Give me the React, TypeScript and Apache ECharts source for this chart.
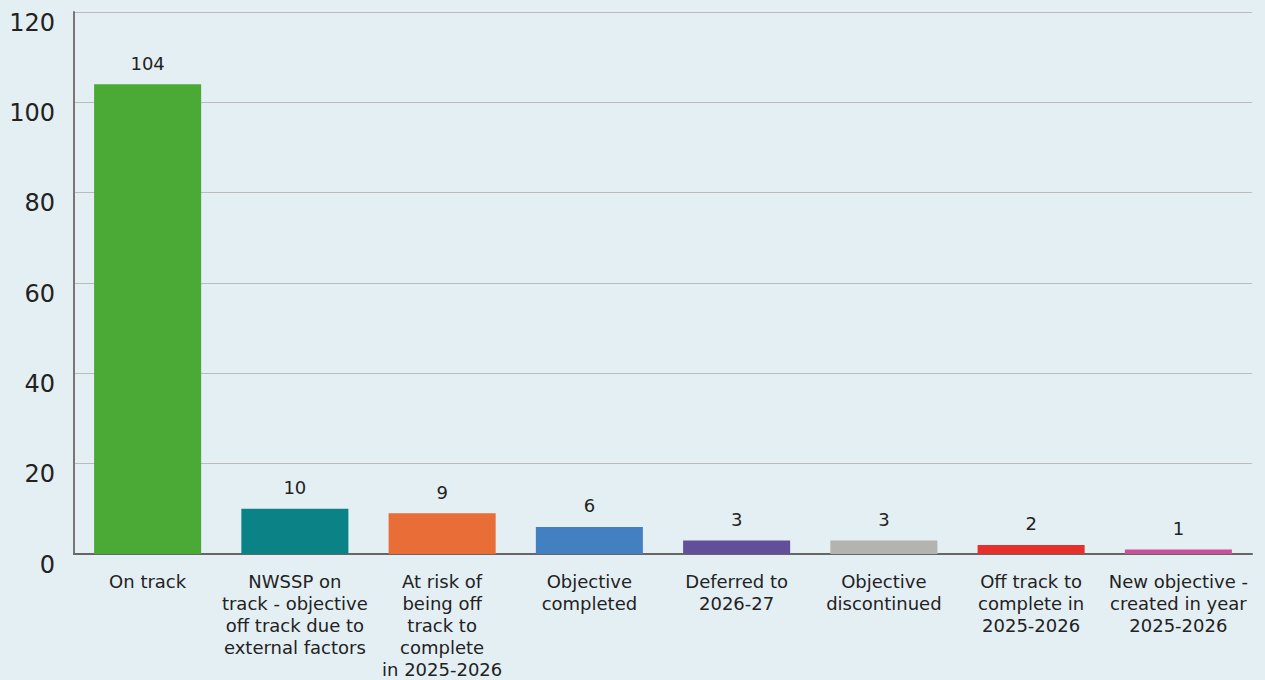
import React, { useEffect, useRef } from "react";
import * as echarts from "echarts";

const categories = [
  "On track",
  "NWSSP on\ntrack - objective\noff track due to\nexternal factors",
  "At risk of\nbeing off\ntrack to\ncomplete\nin 2025-2026",
  "Objective\ncompleted",
  "Deferred to\n2026-27",
  "Objective\ndiscontinued",
  "Off track to\ncomplete in\n2025-2026",
  "New objective -\ncreated in year\n2025-2026",
];
const values = [104, 10, 9, 6, 3, 3, 2, 1];
const barColors = [
  "#4aaa35",
  "#0a8286",
  "#e86d36",
  "#4280c2",
  "#624f9a",
  "#b3b3b0",
  "#e5302c",
  "#c9519a",
];
const yMin = 0;
const yMax = 120;
const yInterval = 20;

export default function App() {
  const ref = useRef<HTMLDivElement>(null);
  useEffect(() => {
    if (!ref.current) return;
    const chart = echarts.init(ref.current, null, { renderer: "svg" });
    const font = "DejaVu Sans";
    chart.setOption({
      animation: false,
      backgroundColor: "#e4eff4",
      textStyle: { fontFamily: font },
      grid: {
        left: 74,
        right: 13,
        top: 12,
        bottom: 126,
        containLabel: false,
        outerBoundsMode: "none",
      },
      xAxis: {
        type: "category",
        data: categories,
        axisLine: { show: true, lineStyle: { color: "#666", width: 2 } },
        axisTick: { show: false },
        axisLabel: {
          interval: 0,
          margin: 16,
          fontSize: 18,
          lineHeight: 22,
          color: "#222",
          fontFamily: font,
          align: "center",
        },
      },
      yAxis: {
        type: "value",
        min: yMin,
        max: yMax,
        interval: yInterval,
        axisLine: { show: true, lineStyle: { color: "#777", width: 2 } },
        axisTick: { show: false },
        splitLine: { show: true, lineStyle: { color: "#bbbbbb", width: 1 } },
        axisLabel: {
          margin: 19,
          fontSize: 24,
          lineHeight: 21,
          color: "#222",
          fontFamily: font,
          verticalAlign: "top",
        },
      },
      series: [
        {
          type: "bar",
          barWidth: "72.7%",
          data: values.map((v, i) => ({ value: v, itemStyle: { color: barColors[i] } })),
          label: {
            show: true,
            position: "top",
            distance: 12,
            fontSize: 18,
            color: "#222",
            fontFamily: font,
          },
        },
      ],
    });
    return () => chart.dispose();
  }, []);
  return (
    <div
      ref={ref}
      style={{ position: "fixed", left: 0, top: 0, width: 1265, height: 680 }}
    />
  );
}
